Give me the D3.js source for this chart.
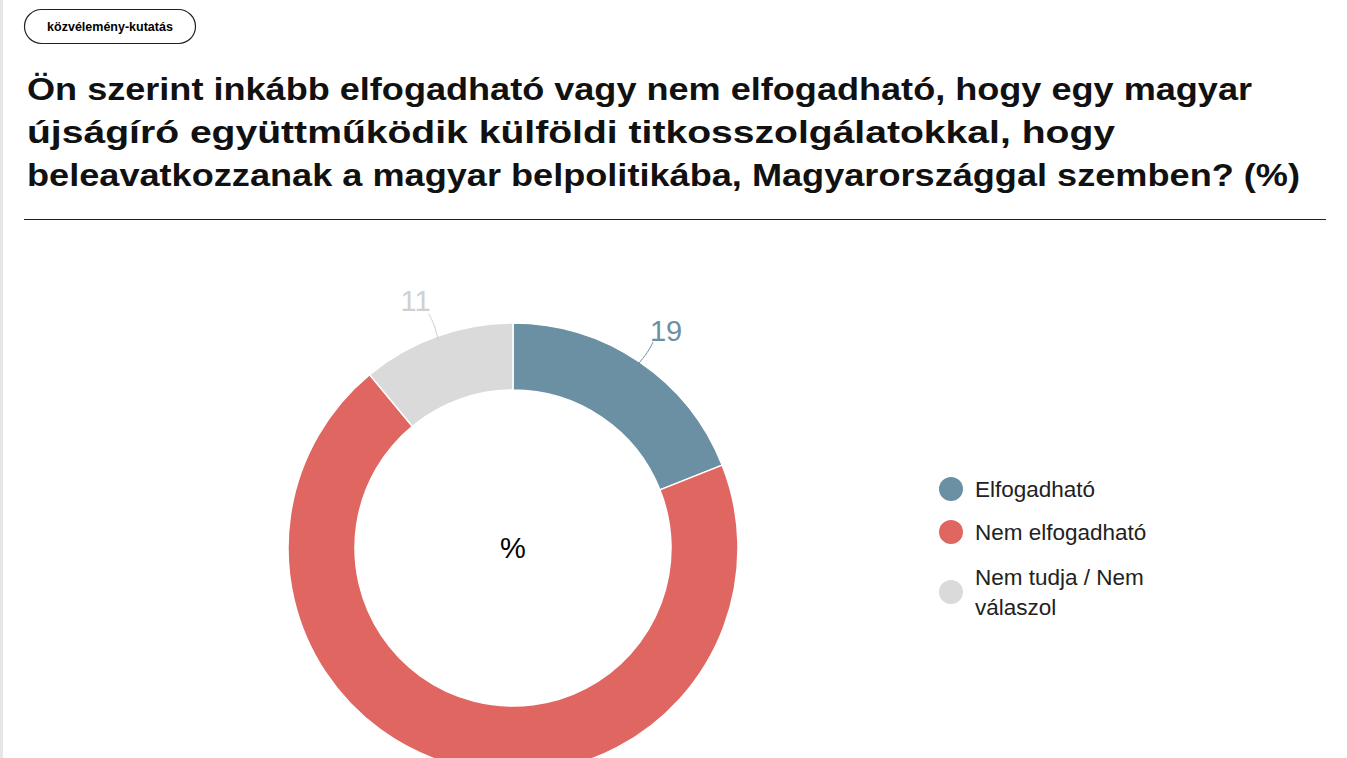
<!DOCTYPE html>
<html><head><meta charset="utf-8">
<script src="https://cdn.jsdelivr.net/npm/d3@7"></script>
<style>
body{margin:0;background:#fff;font-family:"Liberation Sans",Arial,sans-serif;overflow:hidden}
</style></head><body>
<svg width="1347" height="758"></svg>
<script>
var categories = ['Elfogadható', 'Nem elfogadható', 'Nem tudja / Nem válaszol'];
var values = [19, 70, 11];
var colors = ['#6b8fa3', '#e06661', '#dadada'];
var labelColors = ['#6b8fa3', '#e06661', '#d0d0d0'];

var svg = d3.select('svg');
svg.append('rect').attr('x', 0).attr('y', 0).attr('width', 3).attr('height', 758).attr('fill', '#e6e6e6');

// tag
svg.append('rect').attr('x', 24.5).attr('y', 9.5).attr('width', 171).attr('height', 34)
   .attr('rx', 17).attr('fill', '#fff').attr('stroke', '#222').attr('stroke-width', 1.2);
svg.append('text').attr('x', 110).attr('y', 31).attr('text-anchor', 'middle')
   .attr('font-size', 12.5).attr('font-weight', 'bold').text('közvélemény-kutatás');

var title = ['Ön szerint inkább elfogadható vagy nem elfogadható, hogy egy magyar',
             'újságíró együttműködik külföldi titkosszolgálatokkal, hogy',
             'beleavatkozzanak a magyar belpolitikába, Magyarországgal szemben? (%)'];
var titleWidth = [1225, 1088, 1273];
svg.selectAll('.title').data(title).enter().append('text')
   .attr('x', 27).attr('y', (d, i) => 100 + i * 43)
   .attr('font-size', 32).attr('font-weight', 'bold').attr('fill', '#111')
   .attr('textLength', (d, i) => titleWidth[i]).attr('lengthAdjust', 'spacingAndGlyphs')
   .text(d => d);
svg.append('line').attr('x1', 24).attr('x2', 1326).attr('y1', 219.5).attr('y2', 219.5)
   .attr('stroke', '#222').attr('stroke-width', 1.2);

var cx = 513, cy = 548, R = 225, r = 158;
var pie = d3.pie().sort(null).value(d => d)(values);
var arc = d3.arc().innerRadius(r).outerRadius(R);
var g = svg.append('g').attr('transform', `translate(${cx},${cy})`);
g.selectAll('path').data(pie).enter().append('path')
   .attr('d', arc).attr('fill', (d, i) => colors[i]).attr('stroke', '#fff').attr('stroke-width', 1.5);

// labels with small leader curves (the bottom one falls outside the frame)
pie.forEach(function(d, i) {
  var a = (d.startAngle + d.endAngle) / 2;
  if (-Math.cos(a) * R + cy > 740) return;
  var p0 = [Math.sin(a) * (R - 4), -Math.cos(a) * (R - 4)];
  var p1 = [Math.sin(a) * (R + 12), -Math.cos(a) * (R + 12)];
  var p2 = [Math.sin(a) * (R + 24), -Math.cos(a) * (R + 24)];
  g.append('path').attr('d', d3.line().curve(d3.curveBasis)([p0, [p1[0] + 2, p1[1]], p2]))
    .attr('fill', 'none').attr('stroke', labelColors[i]).attr('stroke-width', 1);
  var lp = [Math.sin(a) * (R + 42), -Math.cos(a) * (R + 42)];
  g.append('text').attr('x', lp[0] + (Math.sin(a) > 0 ? 3 : -7)).attr('y', lp[1] + 14)
    .attr('text-anchor', 'middle').attr('font-size', 29).attr('fill', labelColors[i]).text(values[i]);
});
g.append('text').attr('y', 10).attr('text-anchor', 'middle').attr('font-size', 29).text('%');

// legend
var legend = [['Elfogadható'], ['Nem elfogadható'], ['Nem tudja / Nem', 'válaszol']];
var ly = [489, 532, 577];
legend.forEach(function(lines, i) {
  svg.append('circle').attr('cx', 951).attr('cy', ly[i] + (lines.length > 1 ? 15 : 0)).attr('r', 12).attr('fill', colors[i]);
  lines.forEach(function(t, j) {
    svg.append('text').attr('x', 975).attr('y', ly[i] + 8 + j * 30)
      .attr('font-size', 22.5).attr('fill', '#222').text(t);
  });
});
</script></body></html>
